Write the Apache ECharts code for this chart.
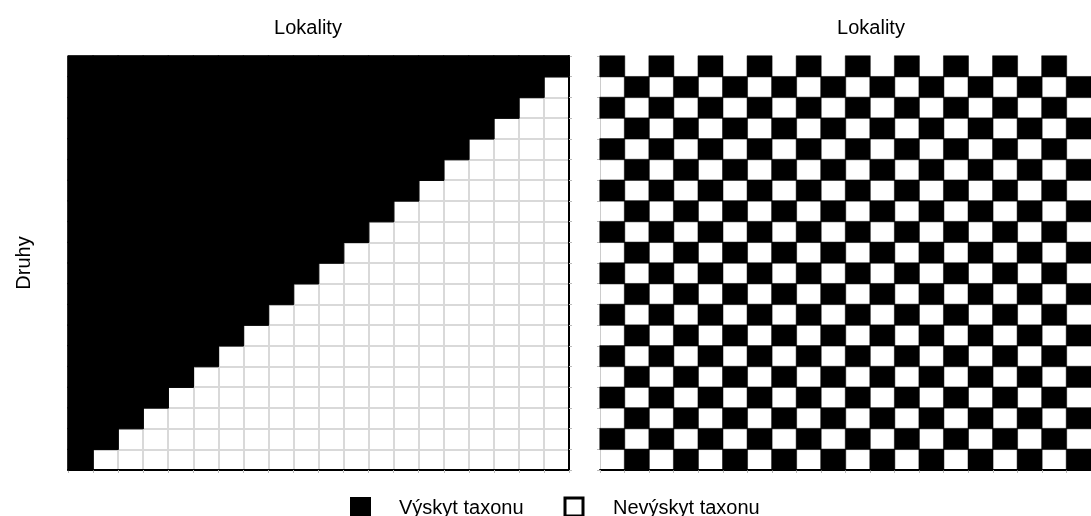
<!DOCTYPE html>
<html>
<head>
<meta charset="utf-8">
<script src="https://cdn.jsdelivr.net/npm/echarts@6/dist/echarts.min.js"></script>
<style>html,body{margin:0;padding:0;background:#fff;}#c{width:1091px;height:516px;}</style>
</head>
<body>
<div id="c"></div>
<script>
// Categories
const lokality = ['1','2','3','4','5','6','7','8','9','10','11','12','13','14','15','16','17','18','19','20'];
const druhy = ['20','19','18','17','16','15','14','13','12','11','10','9','8','7','6','5','4','3','2','1']; // top to bottom
const legendLabels = ['Výskyt taxonu', 'Nevýskyt taxonu'];
const axisTitleX = 'Lokality';
const axisTitleY = 'Druhy';

// Presence matrix, nested pattern (rows listed top to bottom)
const nested = [
  [1,1,1,1,1,1,1,1,1,1,1,1,1,1,1,1,1,1,1,1],
  [1,1,1,1,1,1,1,1,1,1,1,1,1,1,1,1,1,1,1,0],
  [1,1,1,1,1,1,1,1,1,1,1,1,1,1,1,1,1,1,0,0],
  [1,1,1,1,1,1,1,1,1,1,1,1,1,1,1,1,1,0,0,0],
  [1,1,1,1,1,1,1,1,1,1,1,1,1,1,1,1,0,0,0,0],
  [1,1,1,1,1,1,1,1,1,1,1,1,1,1,1,0,0,0,0,0],
  [1,1,1,1,1,1,1,1,1,1,1,1,1,1,0,0,0,0,0,0],
  [1,1,1,1,1,1,1,1,1,1,1,1,1,0,0,0,0,0,0,0],
  [1,1,1,1,1,1,1,1,1,1,1,1,0,0,0,0,0,0,0,0],
  [1,1,1,1,1,1,1,1,1,1,1,0,0,0,0,0,0,0,0,0],
  [1,1,1,1,1,1,1,1,1,1,0,0,0,0,0,0,0,0,0,0],
  [1,1,1,1,1,1,1,1,1,0,0,0,0,0,0,0,0,0,0,0],
  [1,1,1,1,1,1,1,1,0,0,0,0,0,0,0,0,0,0,0,0],
  [1,1,1,1,1,1,1,0,0,0,0,0,0,0,0,0,0,0,0,0],
  [1,1,1,1,1,1,0,0,0,0,0,0,0,0,0,0,0,0,0,0],
  [1,1,1,1,1,0,0,0,0,0,0,0,0,0,0,0,0,0,0,0],
  [1,1,1,1,0,0,0,0,0,0,0,0,0,0,0,0,0,0,0,0],
  [1,1,1,0,0,0,0,0,0,0,0,0,0,0,0,0,0,0,0,0],
  [1,1,0,0,0,0,0,0,0,0,0,0,0,0,0,0,0,0,0,0],
  [1,0,0,0,0,0,0,0,0,0,0,0,0,0,0,0,0,0,0,0]
];

// Presence matrix, checkerboard pattern (rows listed top to bottom)
const checker = [
  [1,0,1,0,1,0,1,0,1,0,1,0,1,0,1,0,1,0,1,0],
  [0,1,0,1,0,1,0,1,0,1,0,1,0,1,0,1,0,1,0,1],
  [1,0,1,0,1,0,1,0,1,0,1,0,1,0,1,0,1,0,1,0],
  [0,1,0,1,0,1,0,1,0,1,0,1,0,1,0,1,0,1,0,1],
  [1,0,1,0,1,0,1,0,1,0,1,0,1,0,1,0,1,0,1,0],
  [0,1,0,1,0,1,0,1,0,1,0,1,0,1,0,1,0,1,0,1],
  [1,0,1,0,1,0,1,0,1,0,1,0,1,0,1,0,1,0,1,0],
  [0,1,0,1,0,1,0,1,0,1,0,1,0,1,0,1,0,1,0,1],
  [1,0,1,0,1,0,1,0,1,0,1,0,1,0,1,0,1,0,1,0],
  [0,1,0,1,0,1,0,1,0,1,0,1,0,1,0,1,0,1,0,1],
  [1,0,1,0,1,0,1,0,1,0,1,0,1,0,1,0,1,0,1,0],
  [0,1,0,1,0,1,0,1,0,1,0,1,0,1,0,1,0,1,0,1],
  [1,0,1,0,1,0,1,0,1,0,1,0,1,0,1,0,1,0,1,0],
  [0,1,0,1,0,1,0,1,0,1,0,1,0,1,0,1,0,1,0,1],
  [1,0,1,0,1,0,1,0,1,0,1,0,1,0,1,0,1,0,1,0],
  [0,1,0,1,0,1,0,1,0,1,0,1,0,1,0,1,0,1,0,1],
  [1,0,1,0,1,0,1,0,1,0,1,0,1,0,1,0,1,0,1,0],
  [0,1,0,1,0,1,0,1,0,1,0,1,0,1,0,1,0,1,0,1],
  [1,0,1,0,1,0,1,0,1,0,1,0,1,0,1,0,1,0,1,0],
  [0,1,0,1,0,1,0,1,0,1,0,1,0,1,0,1,0,1,0,1]
];

function toCells(mat) {
  const out = [];
  mat.forEach((row, r) => {
    row.forEach((v, c) => {
      if (v === 1) out.push([c, r, v]);
    });
  });
  return out;
}

const FONT = "'Liberation Sans', Arial, sans-serif";
const chart = echarts.init(document.getElementById('c'), null, {renderer: 'canvas'});

function xAx(gi, showSplit) {
  return {
    type: 'category', gridIndex: gi, data: lokality, boundaryGap: true,
    axisLabel: {show: false},
    axisLine: {show: true, lineStyle: {color: '#000', width: 2}},
    axisTick: {show: true, length: 3, interval: 0, lineStyle: {color: '#bbb'}},
    splitLine: {show: showSplit, interval: 0, lineStyle: {color: '#d9d9d9', width: 2}}
  };
}
function yAx(gi, showSplit, pos, lineColor, lw) {
  return {
    type: 'category', gridIndex: gi, data: druhy, inverse: true, position: pos, boundaryGap: true,
    axisLabel: {show: false},
    axisLine: {show: true, lineStyle: {color: lineColor, width: lw}},
    axisTick: {show: true, length: 3, interval: 0, lineStyle: {color: '#bbb'}},
    splitLine: {show: showSplit, interval: 0, lineStyle: {color: '#d9d9d9', width: 2}}
  };
}

const option = {
  backgroundColor: '#fff',
  animation: false,
  grid: [
    {left: 68, right: 522, top: 56, bottom: 46, show: true, borderColor: '#aaa', borderWidth: 1},
    {left: 600, right: -9, top: 56, bottom: 46}
  ],
  xAxis: [xAx(0, true), xAx(1, false)],
  yAxis: [yAx(0, true, 'right', '#000', 2), yAx(1, false, 'left', '#ccc', 1)],
  series: [
    {type: 'heatmap', xAxisIndex: 0, yAxisIndex: 0, data: toCells(nested),
     itemStyle: {color: '#000', borderColor: '#000', borderWidth: 1}, emphasis: {disabled: true}},
    {type: 'heatmap', xAxisIndex: 1, yAxisIndex: 1, data: toCells(checker),
     itemStyle: {color: '#000', borderColor: '#000', borderWidth: 0.5}, emphasis: {disabled: true}}
  ],
  graphic: [
    {type: 'text', x: 308, y: 28, style: {text: axisTitleX, font: '20px ' + FONT, fill: '#000', textAlign: 'center', textVerticalAlign: 'middle'}},
    {type: 'text', x: 871, y: 28, style: {text: axisTitleX, font: '20px ' + FONT, fill: '#000', textAlign: 'center', textVerticalAlign: 'middle'}},
    {type: 'text', x: 24, y: 263, rotation: Math.PI / 2, style: {text: axisTitleY, font: '20px ' + FONT, fill: '#000', textAlign: 'center', textVerticalAlign: 'middle'}},
    {type: 'rect', shape: {x: 350, y: 497, width: 21, height: 21}, style: {fill: '#000'}},
    {type: 'text', x: 399, y: 508, style: {text: legendLabels[0], font: '20px ' + FONT, fill: '#000', textAlign: 'left', textVerticalAlign: 'middle'}},
    {type: 'rect', shape: {x: 565, y: 498, width: 18, height: 18}, style: {fill: '#fff', stroke: '#000', lineWidth: 3}},
    {type: 'text', x: 613, y: 508, style: {text: legendLabels[1], font: '20px ' + FONT, fill: '#000', textAlign: 'left', textVerticalAlign: 'middle'}}
  ]
};
chart.setOption(option);
</script>
</body>
</html>
